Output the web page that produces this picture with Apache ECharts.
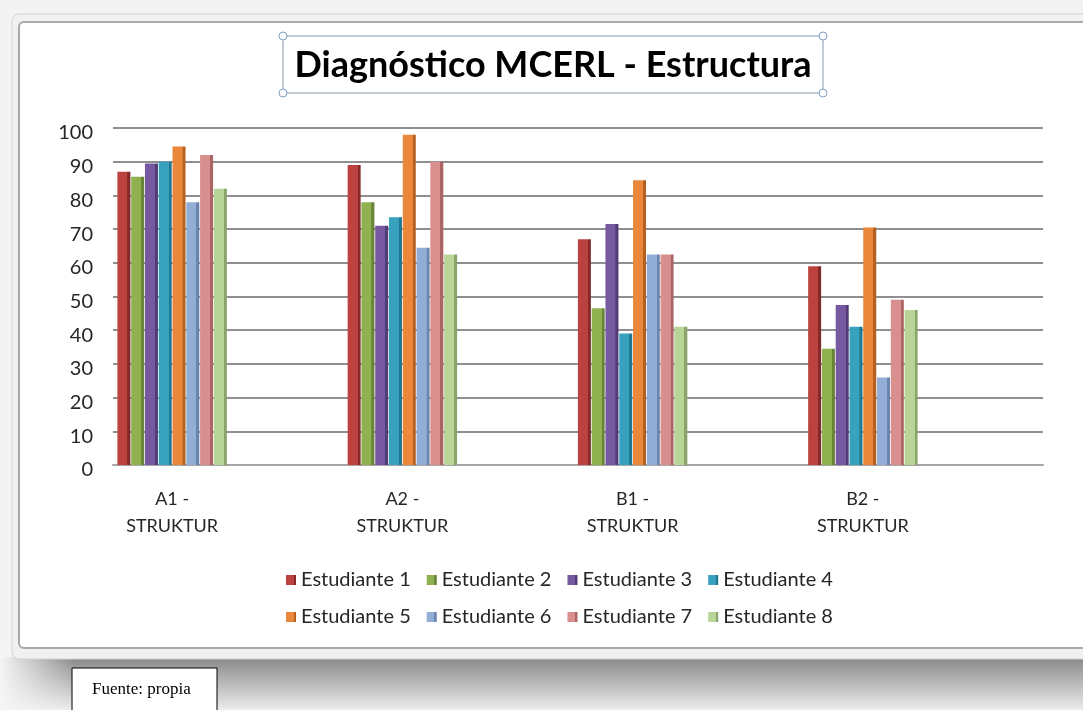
<!DOCTYPE html>
<html>
<head>
<meta charset="utf-8">
<script src="https://cdn.jsdelivr.net/npm/echarts@6/dist/echarts.min.js"></script>
<style>
html,body{margin:0;padding:0;background:#f2f2f2;}
#chart{width:1083px;height:710px;}
</style>
</head>
<body>
<div id="chart"></div>
<script>
// ---- Data ----
const titleText = 'Diagnóstico MCERL - Estructura';
const sourceText = 'Fuente: propia';
const categories = ['A1 -\nSTRUKTUR', 'A2 -\nSTRUKTUR', 'B1 -\nSTRUKTUR', 'B2 -\nSTRUKTUR'];
const seriesNames = ['Estudiante 1', 'Estudiante 2', 'Estudiante 3', 'Estudiante 4',
                     'Estudiante 5', 'Estudiante 6', 'Estudiante 7', 'Estudiante 8'];
const est1 = [87, 89, 67, 59];
const est2 = [85.5, 78, 46.5, 34.5];
const est3 = [89.5, 71, 71.5, 47.5];
const est4 = [90, 73.5, 39, 41];
const est5 = [94.5, 98, 84.5, 70.5];
const est6 = [78, 64.5, 62.5, 26];
const est7 = [92, 90, 62.5, 49];
const est8 = [82, 62.5, 41, 46];
const yTicks = [0, 10, 20, 30, 40, 50, 60, 70, 80, 90, 100];

const seriesValues = [est1, est2, est3, est4, est5, est6, est7, est8];
const frontColors = ['#bb423f', '#8fb150', '#7659a0', '#38a2be', '#ea873a', '#93aed6', '#d98f8e', '#b9d497'];
const sideColors  = ['#842a28', '#678437', '#523c78', '#237891', '#b5601f', '#6b84ad', '#ab6564', '#8ba46c'];

const FONT = 'Lato, "Open Sans", sans-serif';

function barStyle(i) {
  return {
    color: {
      type: 'linear', x: 0, y: 0, x2: 1, y2: 0,
      colorStops: [
        {offset: 0, color: frontColors[i]},
        {offset: 0.76, color: frontColors[i]},
        {offset: 0.78, color: sideColors[i]},
        {offset: 1, color: sideColors[i]}
      ]
    }
  };
}

const chart = echarts.init(document.getElementById('chart'), null, {renderer: 'canvas'});

const series = seriesValues.map((vals, i) => ({
  name: seriesNames[i],
  type: 'bar',
  xAxisIndex: 0,
  yAxisIndex: 0,
  data: vals,
  barWidth: 13,
  barGap: '6%',
  itemStyle: barStyle(i),
  emphasis: {disabled: true},
  z: 3
}));

const cornerR = 4;
const tb = {x: 283, y: 36, w: 540, h: 57};

const legendText = {fontSize: 20, color: '#262626', width: 104, fontFamily: FONT};

const option = {
  animation: false,
  color: frontColors,
  textStyle: {fontFamily: FONT},
  graphic: [
    // page background
    {type: 'rect', z: -20, shape: {x: 0, y: 0, width: 1083, height: 710}, style: {fill: '#f3f3f3'}},
    // bottom shadow band
    {type: 'rect', z: -19, shape: {x: 0, y: 657, width: 1083, height: 53},
      style: {fill: {type: 'linear', x: 0, y: 0, x2: 0, y2: 1,
        colorStops: [{offset: 0, color: '#878787'}, {offset: 0.45, color: '#b5b5b5'}, {offset: 1, color: '#ececec'}]}}},
    // left fade of shadow
    {type: 'rect', z: -18, shape: {x: 0, y: 640, width: 75, height: 70},
      style: {fill: {type: 'linear', x: 0, y: 0, x2: 1, y2: 0,
        colorStops: [{offset: 0, color: 'rgba(245,245,245,1)'}, {offset: 1, color: 'rgba(245,245,245,0)'}]}}},
    // outer frame
    {type: 'rect', z: -17, shape: {x: 12, y: 14, width: 1100, height: 645, r: 7},
      style: {fill: '#f1f1f1', stroke: '#d2d2d2', lineWidth: 1}},
    // inner chart area
    {type: 'rect', z: -16, shape: {x: 19, y: 22, width: 1090, height: 626, r: [5, 0, 0, 5]},
      style: {fill: '#ffffff', stroke: '#a9a9a9', lineWidth: 2}},
    // title box
    {type: 'rect', z: 5, shape: {x: tb.x, y: tb.y, width: tb.w, height: tb.h},
      style: {fill: 'none', stroke: '#8796a8', lineWidth: 1}},
    {type: 'circle', z: 6, shape: {cx: tb.x, cy: tb.y, r: cornerR}, style: {fill: '#fff', stroke: '#7f9fc4', lineWidth: 1}},
    {type: 'circle', z: 6, shape: {cx: tb.x + tb.w, cy: tb.y, r: cornerR}, style: {fill: '#fff', stroke: '#7f9fc4', lineWidth: 1}},
    {type: 'circle', z: 6, shape: {cx: tb.x, cy: tb.y + tb.h, r: cornerR}, style: {fill: '#fff', stroke: '#7f9fc4', lineWidth: 1}},
    {type: 'circle', z: 6, shape: {cx: tb.x + tb.w, cy: tb.y + tb.h, r: cornerR}, style: {fill: '#fff', stroke: '#7f9fc4', lineWidth: 1}},
    {type: 'text', z: 6, x: tb.x + tb.w / 2, y: tb.y + tb.h / 2 + 1,
      style: {text: titleText, fill: '#000', font: 'bold 36px ' + FONT, align: 'center', verticalAlign: 'middle'}},
    // source box
    {type: 'rect', z: 6, shape: {x: 72, y: 668, width: 145, height: 50},
      style: {fill: '#fff', stroke: '#000', lineWidth: 1}},
    {type: 'text', z: 7, x: 92, y: 690,
      style: {text: sourceText, fill: '#000', font: '17px "Liberation Serif", "DejaVu Serif", serif', align: 'left', verticalAlign: 'middle'}}
  ],
  legend: [
    {
      data: seriesNames.slice(0, 4), left: 281, top: 565,
      itemWidth: 10, itemHeight: 10, itemGap: 16, icon: 'rect',
      selectedMode: false, textStyle: legendText
    },
    {
      data: seriesNames.slice(4, 8), left: 281, top: 602,
      itemWidth: 10, itemHeight: 10, itemGap: 16, icon: 'rect',
      selectedMode: false, textStyle: legendText
    }
  ],
  grid: [
    {left: 57, right: 105, top: 128, bottom: 245},
    {left: 113, right: 40, top: 128, bottom: 245}
  ],
  xAxis: [
    {
      type: 'category', gridIndex: 0, data: categories,
      axisLine: {show: false}, axisTick: {show: false},
      axisLabel: {fontSize: 18, color: '#262626', margin: 21, lineHeight: 27, fontFamily: FONT},
      splitLine: {show: false}, z: 4
    },
    {
      type: 'value', gridIndex: 1, min: 0, max: 1,
      axisLine: {show: true, lineStyle: {color: '#a6a6a6', width: 2}},
      axisTick: {show: false}, axisLabel: {show: false}, splitLine: {show: false}
    }
  ],
  yAxis: [
    {
      type: 'value', gridIndex: 0, min: 0, max: 100, interval: 10, show: false,
      splitLine: {show: false}
    },
    {
      type: 'value', gridIndex: 1, min: 0, max: 100, interval: 10,
      axisLine: {show: false}, axisTick: {show: false},
      axisLabel: {fontSize: 20, color: '#262626', margin: 20, fontFamily: FONT,
        verticalAlign: 'top', lineHeight: 10,
        formatter: v => (yTicks.indexOf(v) >= 0 ? String(v) : '')},
      splitLine: {show: true, lineStyle: {color: '#8f8f8f', width: 2}}
    }
  ],
  series: series
};

chart.setOption(option);
</script>
</body>
</html>
